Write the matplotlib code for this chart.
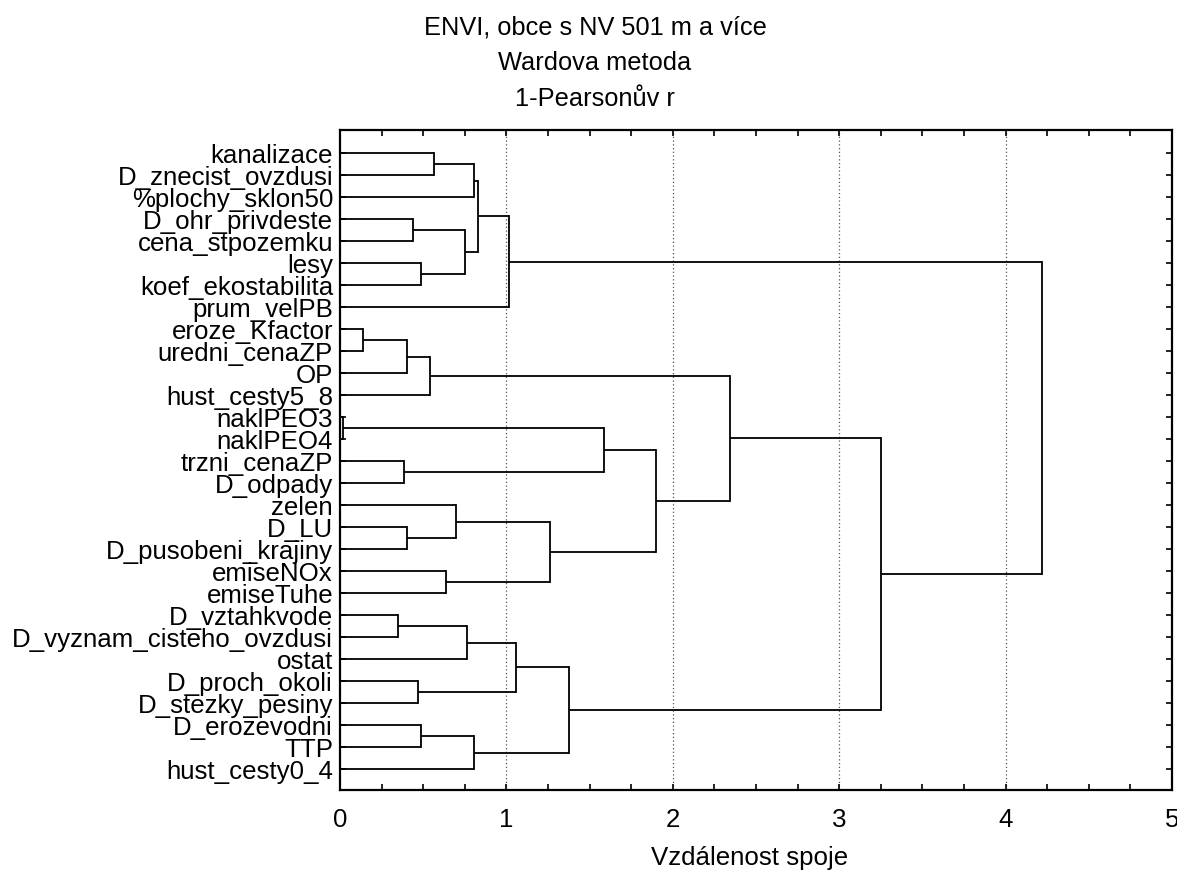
import matplotlib.pyplot as plt
from matplotlib.ticker import MultipleLocator

plt.rcParams['font.family'] = ['Liberation Sans', 'DejaVu Sans']

# leaves, top to bottom
leaves = ['kanalizace', 'D_znecist_ovzdusi', '%plochy_sklon50', 'D_ohr_privdeste',
          'cena_stpozemku', 'lesy', 'koef_ekostabilita', 'prum_velPB',
          'eroze_Kfactor', 'uredni_cenaZP', 'OP', 'hust_cesty5_8',
          'naklPEO3', 'naklPEO4', 'trzni_cenaZP', 'D_odpady',
          'zelen', 'D_LU', 'D_pusobeni_krajiny', 'emiseNOx', 'emiseTuhe',
          'D_vztahkvode', 'D_vyznam_cisteho_ovzdusi', 'ostat', 'D_proch_okoli',
          'D_stezky_pesiny', 'D_erozevodni', 'TTP', 'hust_cesty0_4']

# linkage steps: ids < len(leaves) are leaves, others are earlier clusters
merge_left = [0, 29, 3, 5, 31, 30, 34, 8, 36, 37, 12, 14, 39, 17, 16, 19, 43, 41, 38,
              21, 48, 24, 49, 26, 52, 51, 47, 35]
merge_right = [1, 2, 4, 6, 32, 33, 7, 9, 10, 11, 13, 15, 40, 18, 42, 20, 44, 45, 46,
               22, 23, 25, 50, 27, 28, 53, 54, 55]
merge_height = [0.567, 0.806, 0.441, 0.485, 0.754, 0.832, 1.013, 0.14, 0.401, 0.542,
                0.016, 0.383, 1.585, 0.405, 0.698, 0.638, 1.264, 1.90, 2.345,
                0.351, 0.766, 0.467, 1.058, 0.487, 0.808, 1.379, 3.25, 4.22]

title_lines = ['ENVI, obce s NV 501 m a více', 'Wardova metoda', '1-Pearsonův r']

fig = plt.figure(figsize=(11.77, 8.72), dpi=100)
ax = fig.add_axes([340 / 1177, 1 - 790 / 872, 832 / 1177, 660 / 872])

n = len(leaves)
ypos = {i: float(i) for i in range(n)}
xpos = {i: 0.0 for i in range(n)}
for k, (a, b, h) in enumerate(zip(merge_left, merge_right, merge_height)):
    node = n + k
    for c in (a, b):
        ax.plot([xpos[c], h], [ypos[c], ypos[c]], color='black', lw=1.3,
                solid_capstyle='butt', zorder=3)
    ax.plot([h, h], [ypos[a], ypos[b]], color='black', lw=1.3, zorder=3)
    ypos[node] = (ypos[a] + ypos[b]) / 2
    xpos[node] = h

ax.set_xlim(0, 5)
ax.set_ylim(n - 1 + 0.95, -1.05)
ax.set_yticks(range(n))
ax.set_yticklabels(leaves, fontsize=18.6)
ax.xaxis.set_major_locator(MultipleLocator(1))
ax.xaxis.set_minor_locator(MultipleLocator(0.25))
ax.tick_params(axis='x', labelsize=18.6, pad=13)
ax.tick_params(axis='both', which='both', direction='in', top=True, right=True,
               length=4, width=1.2)
ax.tick_params(axis='y', pad=5)

for gx in [1, 2, 3, 4]:
    ax.axvline(gx, color='#555555', lw=0.9, ls=(0, (1, 2)), zorder=1)

for s in ax.spines.values():
    s.set_linewidth(1.6)

fig.text(750 / 1177, 1 - 858 / 872, 'Vzdálenost spoje', fontsize=18.6,
         ha='center', va='center')

for i, t in enumerate(title_lines):
    fig.text(595 / 1177, 1 - (27 + 36 * i) / 872, t, fontsize=18.3,
             ha='center', va='center')

fig.savefig('out.png', dpi=100)
